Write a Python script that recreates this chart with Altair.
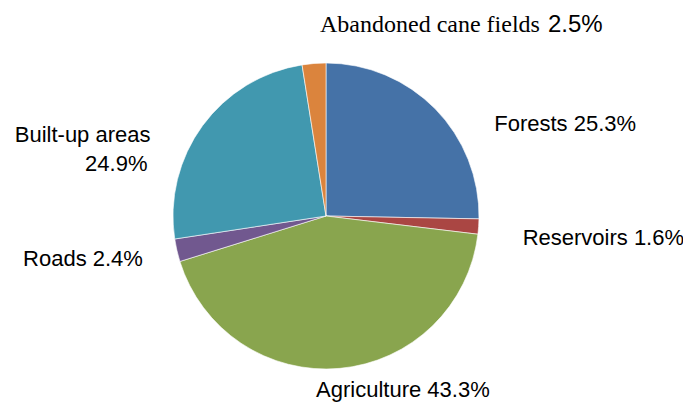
import altair as alt
import pandas as pd

categories = ["Forests", "Reservoirs", "Agriculture", "Roads", "Built-up areas", "Abandoned cane fields"]
values = [25.3, 1.6, 43.3, 2.4, 24.9, 2.5]
colors = ["#4572A7", "#AA4643", "#89A54E", "#71588F", "#4198AF", "#DB843D"]
pct_labels = ["25.3%", "1.6%", "43.3%", "2.4%", "24.9%", "2.5%"]

df = pd.DataFrame({
    "category": categories,
    "value": values,
    "order": list(range(len(categories))),
    "pct": pct_labels,
})

R = 153
theta_scale = alt.Scale(domain=[0, 100])

base = alt.Chart(df).transform_window(
    cum="sum(value)", sort=[alt.SortField("order")], frame=[None, 0]
).transform_calculate(mid="datum.cum - datum.value / 2")

pie = alt.Chart(df).mark_arc(outerRadius=R, stroke="#ffffff", strokeWidth=0.6).encode(
    theta=alt.Theta("value:Q", stack=True, scale=theta_scale),
    color=alt.Color("category:N", scale=alt.Scale(domain=categories, range=colors), legend=None),
    order=alt.Order("order:Q"),
)

SANS = "Liberation Sans"
SERIF = "Liberation Serif"


def label(cat, text_expr, dx, dy, align, font=SANS, size=22):
    return base.transform_filter(alt.datum.category == cat).transform_calculate(
        lbl=text_expr
    ).mark_text(
        align=align, baseline="alphabetic", dx=dx, dy=dy, font=font, fontSize=size, color="#000000"
    ).encode(
        theta=alt.Theta("mid:Q", stack=None, scale=theta_scale),
        radius=alt.value(R),
        text="lbl:N",
    )


layers = [
    pie,
    label("Forests", "datum.category + ' ' + datum.pct", 59, 22, "left"),
    label("Reservoirs", "datum.category + ' ' + datum.pct", 44, 18, "left"),
    label("Agriculture", "datum.category + ' ' + datum.pct", 63, 29, "center"),
    label("Roads", "datum.category + ' ' + datum.pct", -34, 16, "right"),
    label("Built-up areas", "datum.category", -52, 16, "right"),
    label("Built-up areas", "datum.pct", -55, 45, "right"),
    label("Abandoned cane fields", "datum.category", 6, -31, "left", font=SERIF, size=24),
    label("Abandoned cane fields", "datum.pct", 234, -31, "left", size=24),
]

chart = alt.layer(*layers).properties(
    width=636,
    height=366,
    autosize=alt.AutoSizeParams(type="none"),
    padding={"left": 0, "top": 25, "right": 39, "bottom": 6},
    background="#ffffff",
).configure_view(stroke=None)

chart.save("out.html", embed_options={"renderer": "svg", "actions": False})
